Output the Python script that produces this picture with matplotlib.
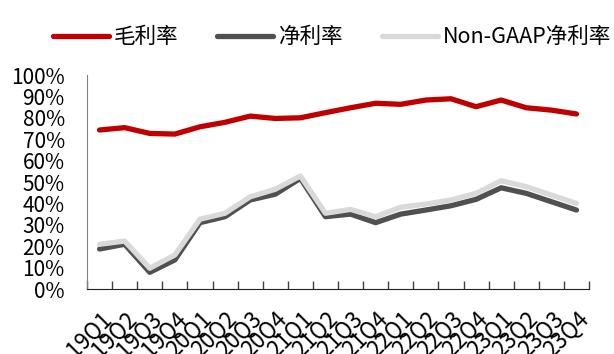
import matplotlib
matplotlib.use("Agg")
import matplotlib.pyplot as plt
from matplotlib.ticker import MultipleLocator, FixedLocator, FuncFormatter

plt.rcParams['font.family'] = ['Noto Sans CJK SC', 'DejaVu Sans']

quarters = ["19Q1", "19Q2", "19Q3", "19Q4", "20Q1", "20Q2", "20Q3", "20Q4",
            "21Q1", "21Q2", "21Q3", "21Q4", "22Q1", "22Q2", "22Q3", "22Q4",
            "23Q1", "23Q2", "23Q3", "23Q4"]
gross_margin = [74.3, 75.4, 72.7, 72.4, 75.8, 77.9, 80.8, 79.7, 80.0, 82.4,
                84.7, 86.8, 86.3, 88.3, 88.9, 85.2, 88.3, 84.7, 83.6, 81.8]
net_margin = [18.7, 20.9, 7.8, 13.6, 31.0, 33.8, 41.6, 44.3, 51.7, 33.8,
              35.0, 31.0, 35.0, 36.9, 38.9, 41.9, 47.3, 44.7, 40.8, 36.9]
nongaap_margin = [20.9, 22.4, 9.7, 15.9, 32.6, 35.4, 43.1, 46.6, 52.8, 35.4,
                  37.2, 33.8, 38.2, 39.7, 41.6, 44.7, 50.6, 47.8, 43.9, 40.0]

fig = plt.figure(figsize=(6.14, 3.54), dpi=100)
ax = fig.add_axes([0.1417, 0.1836, 0.8176, 0.6045])

x = list(range(len(quarters)))
ax.plot(x, gross_margin, color="#C00000", lw=3.8, label="毛利率", solid_capstyle="round")
ax.plot(x, net_margin, color="#505050", lw=3.8, label="净利率", solid_capstyle="round")
ax.plot(x, nongaap_margin, color="#D9D9D9", lw=3.8, label="Non-GAAP净利率", solid_capstyle="round")

ax.set_xlim(-0.5, len(quarters) - 0.5)
ax.set_ylim(0, 100)
ax.yaxis.set_major_locator(MultipleLocator(10))
ax.yaxis.set_major_formatter(FuncFormatter(lambda v, p: f"{v:.0f}%"))
ax.tick_params(axis="y", length=0, pad=16, labelsize=15)

ax.set_xticks(x)
ax.set_xticklabels(quarters, rotation=45, ha="right", rotation_mode="anchor", fontsize=16)
ax.xaxis.set_minor_locator(FixedLocator([i - 0.5 for i in range(len(quarters) + 1)]))
ax.tick_params(axis="x", which="major", length=0, pad=13)
ax.tick_params(axis="x", which="minor", direction="in", length=6, color="#404040", width=1)

for s in ["top", "right"]:
    ax.spines[s].set_visible(False)
ax.spines["left"].set_color("#808080")
ax.spines["bottom"].set_color("#202020")

fig.legend(loc="center", bbox_to_anchor=(0.541, 0.895), ncol=3, frameon=False,
           fontsize=15.5, handlelength=2.6, handletextpad=0.25, columnspacing=1.8)

fig.savefig("out.png", dpi=100)
